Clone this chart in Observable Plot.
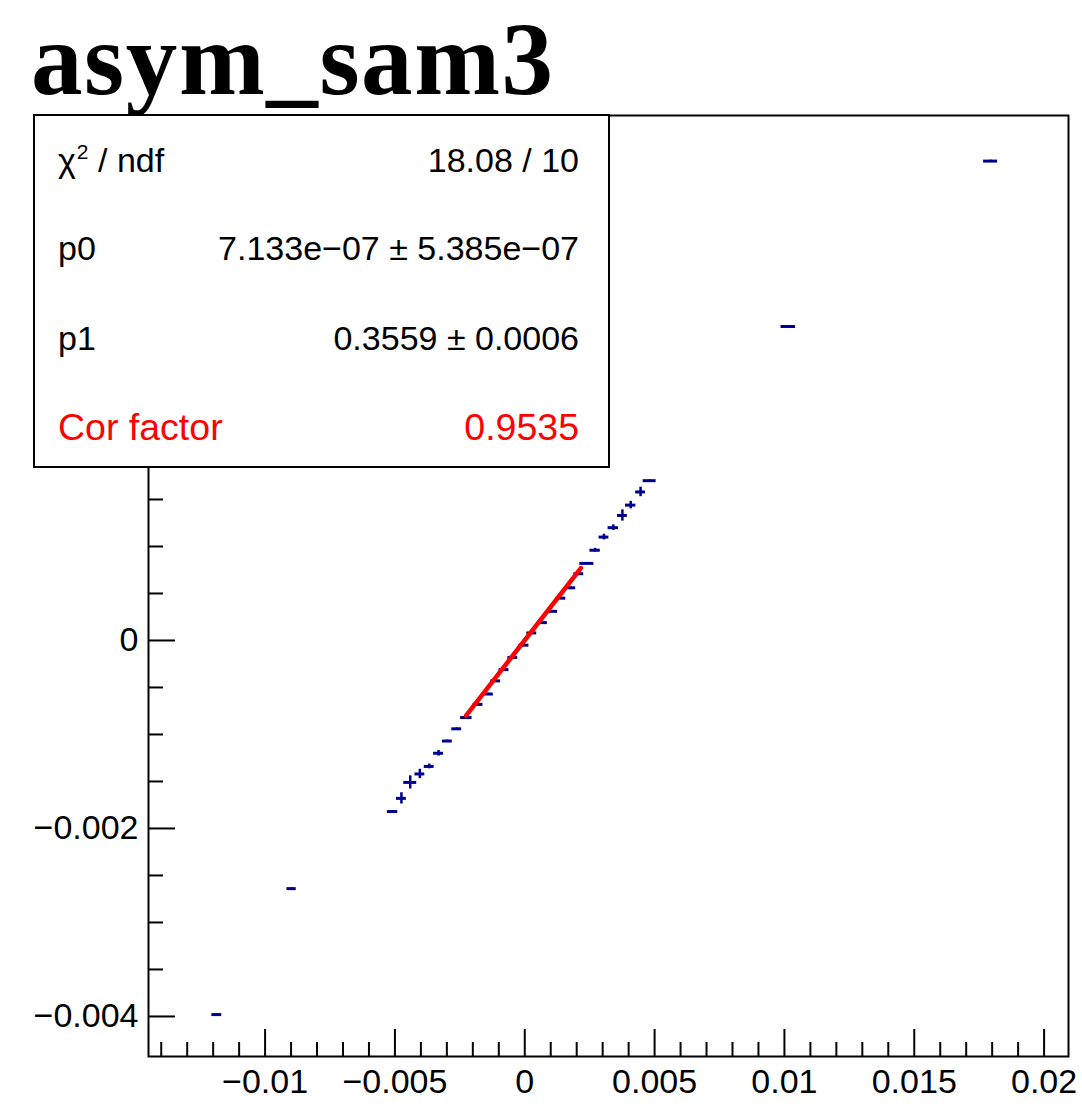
<!DOCTYPE html>
<html>
<head>
<meta charset="utf-8">
<script src="https://cdn.jsdelivr.net/npm/d3@7"></script>
<script src="https://cdn.jsdelivr.net/npm/@observablehq/plot@0.6"></script>
<style>
html, body { margin: 0; padding: 0; background: #fff; overflow: hidden; }
#root { position: relative; width: 1082px; height: 1108px; background: #fff; }
#title { position: absolute; left: 31px; top: 0px; font-family: "Liberation Serif", "Times New Roman", serif; font-weight: bold; font-size: 103px; line-height: normal; letter-spacing: 1.6px; color: #000; white-space: nowrap; }
#chart { position: absolute; left: 0; top: 100px; }
#stats { position: absolute; left: 33px; top: 114px; width: 577px; height: 354px; border: 2px solid #000; background: #fff; box-sizing: border-box; font-family: "Liberation Sans", Arial, sans-serif; font-size: 34px; color: #000; }
.row { position: absolute; left: 23px; right: 29px; height: 40px; line-height: 40px; display: flex; justify-content: space-between; white-space: nowrap; }
.sup { font-size: 21px; position: relative; top: -13px; margin-left: 1px; }
</style>
</head>
<body>
<div id="root">
  <div id="chart"></div>
  <div id="stats"></div>
  <div id="title"></div>
</div>
<script>
// ---- data ----
const titleText = "asym_sam3";

const xVals = [
  -0.00509, -0.00475, -0.00441, -0.00404, -0.00368, -0.00332, -0.00298, -0.00262, -0.00225,
  -0.00180, -0.00140, -0.00112, -0.00080, -0.00046, -0.00003, 0.00027, 0.00068, 0.00107, 0.00139, 0.00177, 0.00208,
  0.00239, 0.00271, 0.00305, 0.00341, 0.00376, 0.00408, 0.00446, 0.00481,
  -0.01186, -0.00898, 0.01015, 0.01794
];
const yVals = [
  -0.00182, -0.00168, -0.00151, -0.00142, -0.00134, -0.00120, -0.00107, -0.00094, -0.00082,
  -0.00068, -0.00057, -0.00043, -0.00031, -0.00018, -0.00005, 0.00008, 0.00019, 0.00031, 0.00045, 0.00056, 0.00071,
  0.00082, 0.00096, 0.00110, 0.00120, 0.00133, 0.00144, 0.00158, 0.00170,
  -0.00398, -0.00264, 0.00334, 0.00510
];
const xErr = [
  0.00020, 0.00019, 0.00025, 0.00019, 0.00019, 0.00019, 0.00019, 0.00019, 0.00022,
  0.00019, 0.00019, 0.00019, 0.00019, 0.00019, 0.00019, 0.00019, 0.00019, 0.00019, 0.00019, 0.00019, 0.00019,
  0.00027, 0.00020, 0.00019, 0.00020, 0.00019, 0.00020, 0.00019, 0.00025,
  0.00019, 0.00018, 0.00028, 0.00027
];
const yErr = [
  0.00001, 0.00006, 0.00007, 0.00005, 0.000025, 0.00003, 0.00001, 0.00001, 0.00001,
  0.00001, 0.00001, 0.00001, 0.00001, 0.00001, 0.00001, 0.00001, 0.00001, 0.00001, 0.00001, 0.00001, 0.00001,
  0.00001, 0.00002, 0.00003, 0.00003, 0.00006, 0.00004, 0.00005, 0.00001,
  0.00001, 0.00001, 0.00001, 0.00001
];

// fitted straight line (red), end points
const fitX = [-0.00226, 0.00216];
const fitY = [-0.00080, 0.00077];

// axis ticks
const xMajor = [-0.01, -0.005, 0, 0.005, 0.01, 0.015, 0.02];
const xMajorLabels = ["\u22120.01", "\u22120.005", "0", "0.005", "0.01", "0.015", "0.02"];
const xMinor = [-0.014, -0.013, -0.012, -0.011, -0.009, -0.008, -0.007, -0.006, -0.004, -0.003, -0.002, -0.001,
  0.001, 0.002, 0.003, 0.004, 0.006, 0.007, 0.008, 0.009, 0.011, 0.012, 0.013, 0.014, 0.016, 0.017, 0.018, 0.019];
const yMajor = [-0.004, -0.002, 0, 0.002, 0.004];
const yLabelTicks = [-0.004, -0.002, 0];           // the others sit under the stats box
const yMajorLabels = ["\u22120.004", "\u22120.002", "0"];
const yMinor = [-0.0035, -0.003, -0.0025, -0.0015, -0.001, -0.0005, 0.0005, 0.001, 0.0015, 0.0025, 0.003, 0.0035, 0.0045, 0.005, 0.0055];

// statistics box
const statLabels = ["\u03c7<span class='sup'>2</span> / ndf", "p0", "p1", "Cor factor"];
const statValues = ["18.08 / 10", "7.133e\u221207 \u00b1 5.385e\u221207", "0.3559 \u00b1 0.0006", "0.9535"];
const statColors = ["#000", "#000", "#000", "#ff0000"];
const statSizes = [34, 34, 34, 37.5];

// ---- build ----
const points = xVals.map((x, i) => ({x, y: yVals[i], xe: xErr[i], ye: yErr[i]}));
const fitLine = fitX.map((x, i) => ({x, y: fitY[i]}));

const W = 1082, H = 1008;
const mTop = 15, mBottom = 52, mLeft = 148, mRight = 14;
const frameH = H - mTop - mBottom, frameW = W - mLeft - mRight;
const ink = "#000";
const blue = "#000090";

const chart = Plot.plot({
  width: W,
  height: H,
  marginTop: mTop,
  marginBottom: mBottom,
  marginLeft: mLeft,
  marginRight: mRight,
  x: {domain: [-0.01449, 0.02094]},
  y: {domain: [-0.004426, 0.005585]},
  style: {fontFamily: "'Liberation Sans', Arial, Helvetica, sans-serif", fontSize: "34px", color: ink, background: "#fff"},
  marks: [
    // error bars / markers
    Plot.ruleX(points, {x: "x", y1: d => d.y - d.ye, y2: d => d.y + d.ye, stroke: blue, strokeWidth: 2.5}),
    Plot.ruleY(points, {y: "y", x1: d => d.x - d.xe, x2: d => d.x + d.xe, stroke: blue, strokeWidth: 3}),
    // fit
    Plot.line(fitLine, {x: "x", y: "y", stroke: "#ff0000", strokeWidth: 4.5}),
    // inside ticks
    Plot.tickX(xMinor, {x: d => d, insetTop: frameH - 14, stroke: ink, strokeWidth: 2}),
    Plot.tickX(xMajor, {x: d => d, insetTop: frameH - 27, stroke: ink, strokeWidth: 2}),
    Plot.tickY(yMinor, {y: d => d, insetRight: frameW - 15, stroke: ink, strokeWidth: 2}),
    Plot.tickY(yMajor, {y: d => d, insetRight: frameW - 27, stroke: ink, strokeWidth: 2}),
    Plot.axisX({ticks: xMajor, tickSize: 0, tickPadding: 12, tickFormat: d => xMajorLabels[xMajor.indexOf(d)], label: null}),
    Plot.axisY({ticks: yLabelTicks, tickSize: 0, tickPadding: 10, tickFormat: d => yMajorLabels[yLabelTicks.indexOf(d)], label: null}),
    Plot.frame({stroke: ink, strokeWidth: 2})
  ]
});
document.getElementById("chart").appendChild(chart);

document.getElementById("title").textContent = titleText;

const rowTops = [24, 112, 202, 291];
const stats = document.getElementById("stats");
statLabels.forEach((lab, i) => {
  const row = document.createElement("div");
  row.className = "row";
  row.style.top = rowTops[i] + "px";
  row.style.color = statColors[i];
  row.style.fontSize = statSizes[i] + "px";
  const a = document.createElement("span");
  a.innerHTML = lab;
  const b = document.createElement("span");
  b.textContent = statValues[i];
  row.appendChild(a);
  row.appendChild(b);
  stats.appendChild(row);
});
</script>
</body>
</html>
